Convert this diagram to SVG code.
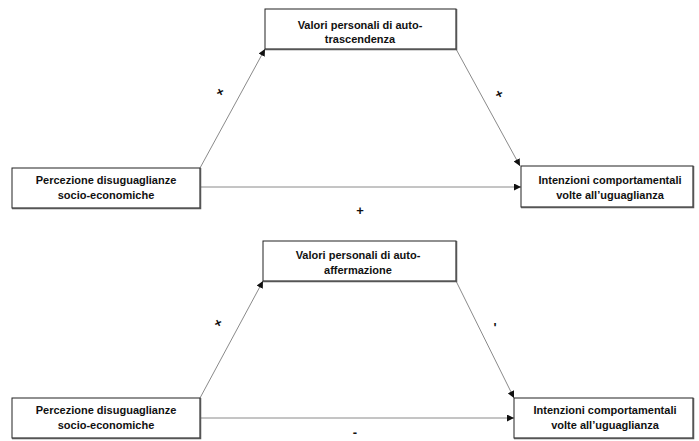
<svg xmlns="http://www.w3.org/2000/svg" width="699" height="441" viewBox="0 0 699 441">
<style>
.box{fill:#fff;stroke:#222;stroke-width:1}
.sh{fill:none;stroke:#555;stroke-width:1.5}
.t{font-family:"Liberation Sans",Arial,sans-serif;font-weight:bold;font-size:11px;fill:#111;text-anchor:middle}
.c{stroke:#8a8a8a;stroke-width:1;fill:none;marker-end:url(#ah)}
.s{font-family:"Liberation Sans",Arial,sans-serif;font-weight:bold;font-size:13px;fill:#111;text-anchor:middle}
</style>
<defs>
<marker id="ah" viewBox="0 0 10 10" refX="10" refY="5" markerWidth="7" markerHeight="7" markerUnits="userSpaceOnUse" orient="auto">
<path d="M0,0L10,5L0,10z" fill="#111"/>
</marker>
</defs>
<rect width="699" height="441" fill="#fff"/>
<g id="connectors">
<line class="c" x1="200" y1="168" x2="265" y2="49"/>
<line class="c" x1="456" y1="49" x2="520" y2="166"/>
<line class="c" x1="200" y1="187" x2="521" y2="187"/>
<line class="c" x1="200" y1="398" x2="263" y2="281"/>
<line class="c" x1="456" y1="281" x2="514" y2="398"/>
<line class="c" x1="200" y1="418" x2="514" y2="418"/>
</g>
<g id="labels">
<text class="s" transform="translate(222,96) rotate(-25)">+</text>
<text class="s" transform="translate(501,98) rotate(-25)">+</text>
<text class="s" x="360" y="215">+</text>
<text class="s" transform="translate(220,327) rotate(-25)">+</text>
<text class="s" x="495" y="332">'</text>
<text class="s" x="355" y="437" font-size="10">-</text>
</g>
<g id="n1">
<rect class="box" x="265" y="9" width="191" height="40"/>
<path class="sh" d="M265,49.5H456.5V9"/>
<text class="t" x="360" y="29">Valori personali di auto-</text>
<text class="t" x="360" y="43">trascendenza</text>
</g>
<g id="n2">
<rect class="box" x="12" y="168" width="188" height="40"/>
<path class="sh" d="M12,208.5H200.5V168"/>
<text class="t" x="106" y="184">Percezione disuguaglianze</text>
<text class="t" x="106" y="199">socio-economiche</text>
</g>
<g id="n3">
<rect class="box" x="521" y="166" width="172" height="41"/>
<path class="sh" d="M521,207.5H693.5V166"/>
<text class="t" x="610" y="184">Intenzioni comportamentali</text>
<text class="t" x="610" y="199">volte all’uguaglianza</text>
</g>
<g id="n4">
<rect class="box" x="263" y="241" width="193" height="40"/>
<path class="sh" d="M263,281.5H456.5V241"/>
<text class="t" x="358" y="259">Valori personali di auto-</text>
<text class="t" x="358" y="274">affermazione</text>
</g>
<g id="n5">
<rect class="box" x="12" y="398" width="188" height="40"/>
<path class="sh" d="M12,438.5H200.5V398"/>
<text class="t" x="106" y="414">Percezione disuguaglianze</text>
<text class="t" x="106" y="429">socio-economiche</text>
</g>
<g id="n6">
<rect class="box" x="514" y="398" width="179" height="40"/>
<path class="sh" d="M514,438.5H693.5V398"/>
<text class="t" x="605" y="414">Intenzioni comportamentali</text>
<text class="t" x="605" y="429">volte all’uguaglianza</text>
</g>
</svg>
